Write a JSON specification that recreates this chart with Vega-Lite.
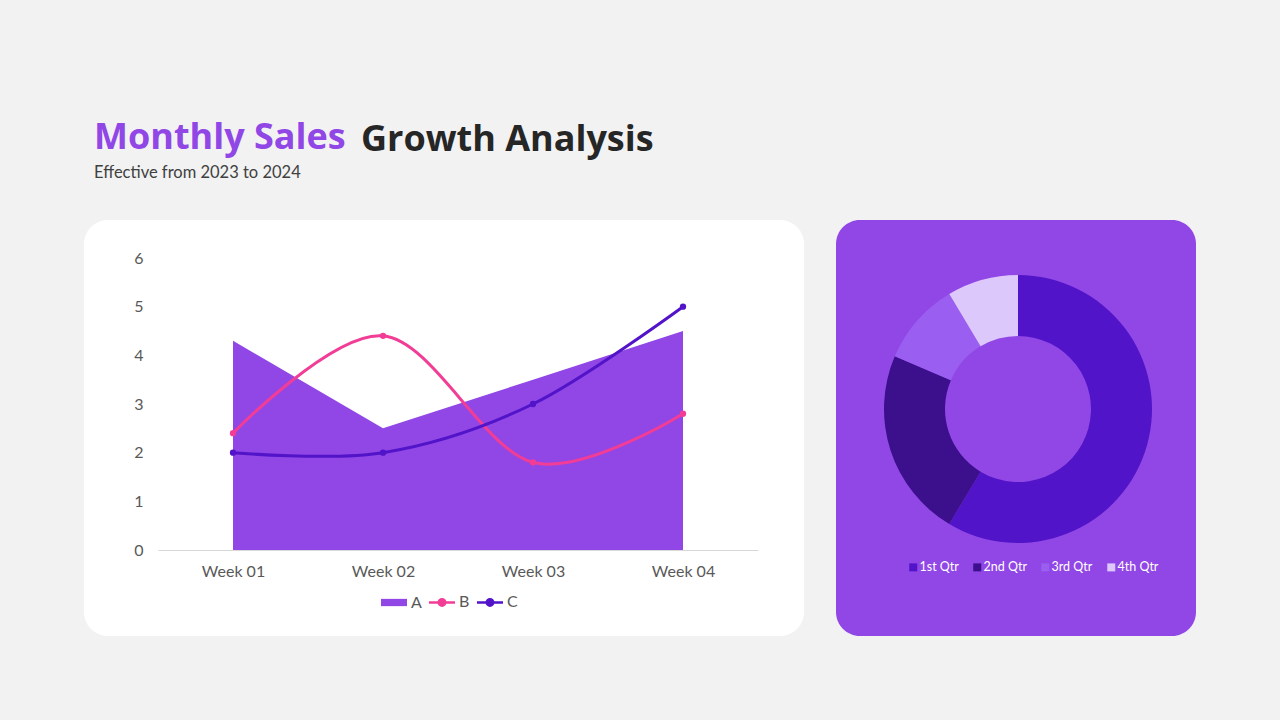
{
  "$schema": "https://vega.github.io/schema/vega-lite/v6.json",
  "background": "#f2f2f2",
  "padding": {"left": 84, "right": 84, "top": 119, "bottom": 86},
  "title": {
    "text": "Monthly Sales",
    "subtitle": "Effective from 2023 to 2024",
    "anchor": "start",
    "dx": 10,
    "offset": -60,
    "font": "Open Sans",
    "fontSize": 36,
    "fontWeight": "bold",
    "color": "#9146e6",
    "subtitleFont": "Lato",
    "subtitleFontSize": 16.5,
    "subtitleColor": "#404040",
    "subtitlePadding": 8
  },
  "spacing": 32,
  "resolve": {"scale": {"color": "independent"}, "legend": {"color": "independent"}},
  "hconcat": [
    {
      "width": 720,
      "height": 416,
      "view": {"fill": "#ffffff", "cornerRadius": 24, "stroke": null},
      "title": {
        "text": "Growth Analysis",
        "anchor": "start",
        "dx": 277,
        "offset": 61,
        "font": "Open Sans",
        "fontSize": 36,
        "fontWeight": "bold",
        "color": "#262626"
      },
      "data": {
        "values": [
          {"week": "Week 01", "series": "A", "value": 4.3},
          {"week": "Week 02", "series": "A", "value": 2.5},
          {"week": "Week 03", "series": "A", "value": 3.5},
          {"week": "Week 04", "series": "A", "value": 4.5},
          {"week": "Week 01", "series": "B", "value": 2.4},
          {"week": "Week 02", "series": "B", "value": 4.4},
          {"week": "Week 03", "series": "B", "value": 1.8},
          {"week": "Week 04", "series": "B", "value": 2.8},
          {"week": "Week 01", "series": "C", "value": 2.0},
          {"week": "Week 02", "series": "C", "value": 2.0},
          {"week": "Week 03", "series": "C", "value": 3.0},
          {"week": "Week 04", "series": "C", "value": 5.0}
        ]
      },
      "encoding": {
        "x": {
          "field": "week",
          "type": "ordinal",
          "scale": {"type": "point", "range": [74, 674], "padding": 0.5},
          "axis": {
            "title": null,
            "offset": -86,
            "ticks": false,
            "grid": false,
            "domainColor": "#d9d9d9",
            "domainWidth": 1,
            "labelAngle": 0,
            "labelPadding": 13,
            "labelFont": "Lato",
            "labelFontSize": 16,
            "labelColor": "#595959"
          }
        },
        "y": {
          "field": "value",
          "type": "quantitative",
          "scale": {"domain": [0, 6], "range": [330, 38], "nice": false, "zero": false},
          "axis": {
            "title": null,
            "offset": -64,
            "ticks": false,
            "domain": false,
            "grid": false,
            "values": [0, 1, 2, 3, 4, 5, 6],
            "labelPadding": 5,
            "labelFont": "Lato",
            "labelFontSize": 16,
            "labelColor": "#595959"
          }
        },
        "color": {
          "field": "series",
          "type": "nominal",
          "scale": {"domain": ["A", "B", "C"], "range": ["#9146e6", "#f23d96", "#5214c8"]},
          "legend": {
            "title": null,
            "orient": "none",
            "direction": "horizontal",
            "legendX": 302,
            "legendY": 374,
            "symbolSize": 676,
            "labelFont": "Lato",
            "labelFontSize": 16,
            "labelColor": "#595959",
            "labelOffset": 9,
            "columnPadding": 2,
            "encode": {
              "symbols": {
                "update": {
                  "shape": {"signal": "datum.value === 'A' ? 'M-1,-0.28H1V0.28H-1Z' : 'M-1,0H1M-0.25,0A0.25,0.25,0,1,1,0.25,0A0.25,0.25,0,1,1,-0.25,0Z'"},
                  "fill": {"scale": "color", "field": "value"},
                  "stroke": {"scale": "color", "field": "value"},
                  "strokeWidth": {"signal": "datum.value === 'A' ? 0 : 2.5"},
                  "opacity": {"value": 1},
                  "fillOpacity": {"value": 1}
                }
              }
            }
          }
        }
      },
      "layer": [
        {
          "transform": [{"filter": "datum.series === 'A'"}],
          "mark": {"type": "area", "interpolate": "linear", "opacity": 1}
        },
        {
          "transform": [{"filter": "datum.series !== 'A'"}],
          "mark": {"type": "line", "interpolate": "cardinal", "strokeWidth": 3}
        },
        {
          "transform": [{"filter": "datum.series !== 'A'"}],
          "mark": {"type": "circle", "size": 40, "opacity": 1}
        }
      ]
    },
    {
      "width": 360,
      "height": 416,
      "view": {"fill": "#9146e6", "cornerRadius": 24, "stroke": null},
      "data": {
        "values": [
          {"q": "1st Qtr", "v": 8.2},
          {"q": "2nd Qtr", "v": 3.2},
          {"q": "3rd Qtr", "v": 1.4},
          {"q": "4th Qtr", "v": 1.2}
        ]
      },
      "mark": {"type": "arc", "innerRadius": 73, "outerRadius": 134, "xOffset": 2, "yOffset": -19},
      "encoding": {
        "theta": {"field": "v", "type": "quantitative", "stack": true},
        "order": {"field": "q", "type": "ordinal"},
        "color": {
          "field": "q",
          "type": "nominal",
          "scale": {"domain": ["1st Qtr", "2nd Qtr", "3rd Qtr", "4th Qtr"], "range": ["#5214c8", "#3c0f8c", "#9a5ff0", "#dcc8fa"]},
          "legend": {
            "title": null,
            "orient": "none",
            "direction": "horizontal",
            "legendX": 71,
            "legendY": 341,
            "symbolType": "square",
            "symbolSize": 64,
            "symbolStrokeWidth": 0,
            "labelFont": "Lato",
            "labelFontSize": 12.5,
            "labelColor": "#ffffff",
            "labelOffset": 0,
            "columnPadding": 12
          }
        }
      }
    }
  ],
  "config": {
    "view": {"stroke": null}
  }
}
